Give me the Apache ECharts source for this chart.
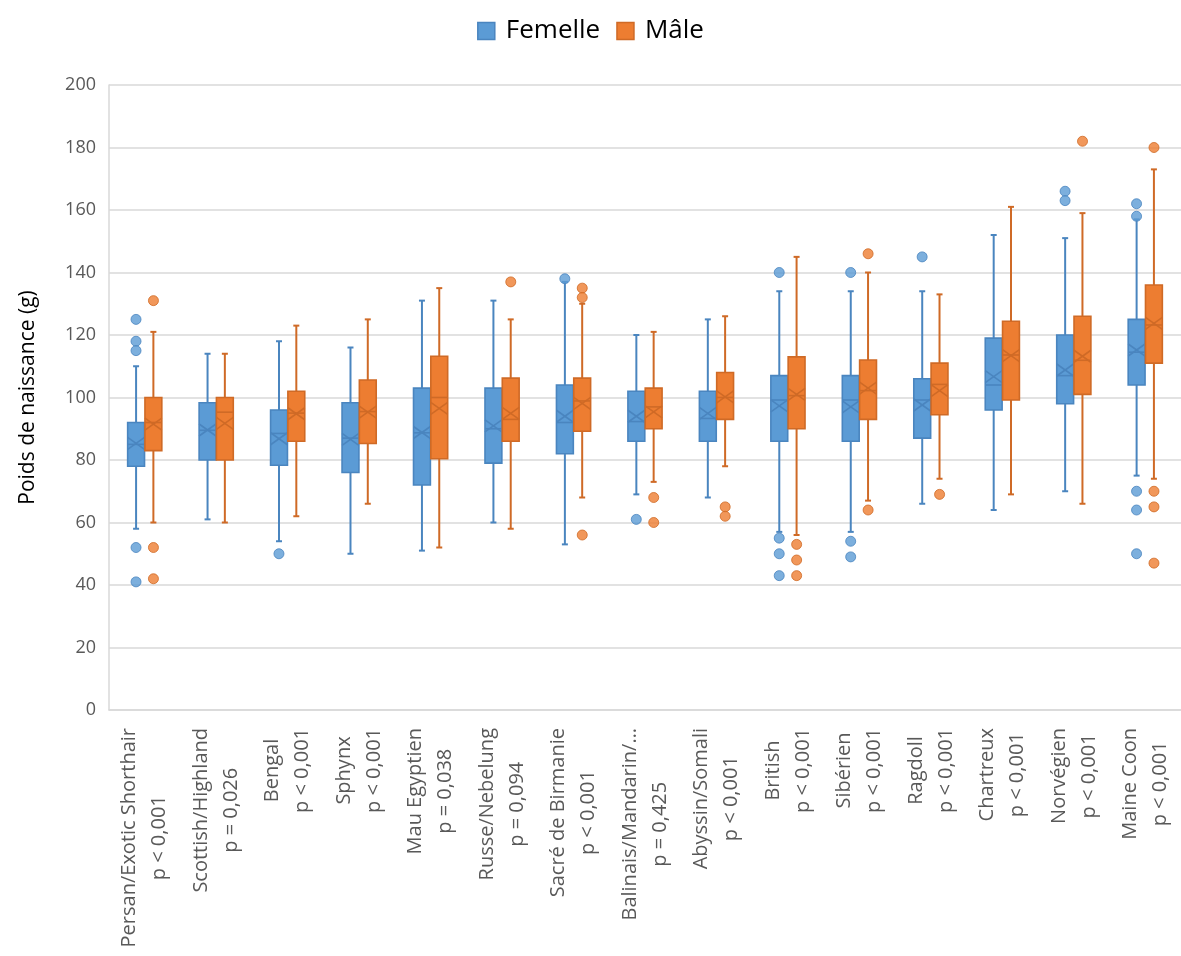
<!DOCTYPE html>
<html>
<head>
<meta charset="utf-8">
<script src="https://cdn.jsdelivr.net/npm/echarts@6/dist/echarts.min.js"></script>
<style>
  html, body { margin: 0; padding: 0; background: #ffffff; }
  #chart { width: 1181px; height: 956px; }
</style>
</head>
<body>
<div id="chart"></div>
<script>
// Breeds and the p-value of the female/male comparison for each one
const breeds = [
  'Persan/Exotic Shorthair', 'Scottish/Highland', 'Bengal', 'Sphynx', 'Mau Egyptien',
  'Russe/Nebelung', 'Sacré de Birmanie', 'Balinais/Mandarin/…', 'Abyssin/Somali', 'British',
  'Sibérien', 'Ragdoll', 'Chartreux', 'Norvégien', 'Maine Coon'
];
const pValues = [
  'p < 0,001', 'p = 0,026', 'p < 0,001', 'p < 0,001', 'p = 0,038',
  'p = 0,094', 'p < 0,001', 'p = 0,425', 'p < 0,001', 'p < 0,001',
  'p < 0,001', 'p < 0,001', 'p < 0,001', 'p < 0,001', 'p < 0,001'
];

// Birth weight (g): [lower whisker, Q1, median, Q3, upper whisker]
const femaleStats = [
  [58, 78, 85, 92, 110],
  [61, 80, 89.5, 98.3, 114],
  [54, 78.3, 88.5, 96, 118],
  [50, 76, 87, 98.3, 116],
  [51, 72, 88.7, 103, 131],
  [60, 79, 90, 103, 131],
  [53, 82, 92, 104, 137],
  [69, 86, 92.3, 102, 120],
  [68, 86, 93.3, 102, 125],
  [57, 86, 99.2, 107, 134],
  [57, 86, 99.2, 107, 134],
  [66, 87, 99.2, 106, 134],
  [64, 96, 104, 119, 152],
  [70, 98, 107, 120, 151],
  [75, 104, 114.5, 125, 157]
];
const femaleMeans = [85.3, 89.6, 86.8, 86.6, 88.8, 90.9, 94, 94, 94.9, 97.3, 97, 97.6, 106.7, 108.8, 115.2];
const femaleOutliers = [
  [0, 125], [0, 118], [0, 115], [0, 52], [0, 41],
  [2, 50],
  [6, 138],
  [7, 61],
  [9, 140], [9, 55], [9, 50], [9, 43],
  [10, 140], [10, 54], [10, 49],
  [11, 145],
  [13, 166], [13, 163],
  [14, 162], [14, 158], [14, 70], [14, 64], [14, 50]
];

const maleStats = [
  [60, 83, 92, 100, 121],
  [60, 80, 95.3, 100, 114],
  [62, 86, 95, 102, 123],
  [66, 85.3, 95.5, 105.6, 125],
  [52, 80.4, 100, 113.2, 135],
  [58, 86, 93, 106.2, 125],
  [68, 89.2, 98.9, 106.2, 130],
  [73, 90, 97, 103, 121],
  [78, 93, 100, 108, 126],
  [56, 90, 100.6, 113, 145],
  [67, 93, 102.2, 112, 140],
  [74, 94.5, 104.2, 111, 133],
  [69, 99.2, 113.6, 124.4, 161],
  [66, 101, 111.9, 126, 159],
  [74, 111, 123.2, 136, 173]
];
const maleMeans = [91.5, 91.7, 94.8, 95.3, 96.5, 94.9, 98.1, 95.4, 100.2, 101, 103, 102.2, 113.4, 113.2, 123.7];
const maleOutliers = [
  [0, 131], [0, 52], [0, 42],
  [5, 137],
  [6, 135], [6, 132], [6, 56],
  [7, 68], [7, 60],
  [8, 65], [8, 62],
  [9, 53], [9, 48], [9, 43],
  [10, 146], [10, 64],
  [11, 69],
  [13, 182],
  [14, 180], [14, 70], [14, 65], [14, 47]
];

const FONT = '"Open Sans", "Liberation Sans", sans-serif';
const LABEL_SIZE = 20;
const FEMALE = { fill: '#5B9BD5', line: '#4A85BF' };
const MALE = { fill: '#ED7D31', line: '#CF6A26' };
const SIDE_SHIFT = 0.121;   // box centre offset, as a share of the category band
const BOX_HALF = 0.118;     // half box width, as a share of the category band

// Box, whiskers, median bar and mean cross for one sex in one category
function boxRenderer(side, colors) {
  return function (params, api) {
    const cat = api.value(0);
    const band = api.size([1, 0])[0];
    const half = band * BOX_HALF;
    const cx = api.coord([cat, 0])[0] + side * band * SIDE_SHIFT;
    const y = (dim) => api.coord([cat, api.value(dim)])[1];
    const yLo = y(1), yQ1 = y(2), yMed = y(3), yQ3 = y(4), yHi = y(5), yMean = y(6);
    const cap = 3, cross = 6;
    const whisker = { stroke: colors.line, lineWidth: 2 };
    const thin = { stroke: colors.line, lineWidth: 1.6 };
    return {
      type: 'group',
      children: [
        { type: 'line', shape: { x1: cx, y1: yHi, x2: cx, y2: yQ3 }, style: whisker },
        { type: 'line', shape: { x1: cx, y1: yQ1, x2: cx, y2: yLo }, style: whisker },
        { type: 'line', shape: { x1: cx - cap, y1: yHi, x2: cx + cap, y2: yHi }, style: whisker },
        { type: 'line', shape: { x1: cx - cap, y1: yLo, x2: cx + cap, y2: yLo }, style: whisker },
        { type: 'rect', shape: { x: cx - half, y: yQ3, width: half * 2, height: yQ1 - yQ3 },
          style: { fill: colors.fill, stroke: colors.line, lineWidth: 1.6 } },
        { type: 'line', shape: { x1: cx - half, y1: yMed, x2: cx + half, y2: yMed }, style: thin },
        { type: 'line', shape: { x1: cx - half, y1: yMean - cross, x2: cx + half, y2: yMean + cross }, style: thin },
        { type: 'line', shape: { x1: cx - half, y1: yMean + cross, x2: cx + half, y2: yMean - cross }, style: thin }
      ]
    };
  };
}

function boxData(stats, means) {
  return stats.map((s, i) => [i, s[0], s[1], s[2], s[3], s[4], means[i]]);
}

// Two-line category labels: each line is centred on the longer one
const measure = document.createElement('canvas').getContext('2d');
measure.font = LABEL_SIZE + 'px "Open Sans"';
const labelRich = {};
breeds.forEach((name, i) => {
  const w1 = measure.measureText(name).width;
  const w2 = measure.measureText(pValues[i]).width;
  const w = Math.max(w1, w2);
  const base = { fontFamily: FONT, fontSize: LABEL_SIZE, lineHeight: 30, color: '#595959' };
  labelRich['a' + i] = Object.assign({}, base, { padding: [0, (w - w1) / 2, 0, (w - w1) / 2] });
  labelRich['b' + i] = Object.assign({}, base, { padding: [0, (w - w2) / 2, 0, (w - w2) / 2] });
});

const chart = echarts.init(document.getElementById('chart'), null, { renderer: 'canvas' });
const bandPx = 1080 / breeds.length;

chart.setOption({
  animation: false,
  backgroundColor: '#ffffff',
  legend: {
    top: 13,
    left: 'center',
    itemWidth: 17,
    itemHeight: 17,
    itemGap: 16,
    textStyle: { fontFamily: FONT, fontSize: 26, color: '#000000', padding: [0, 0, 0, 6] },
    data: [
      { name: 'Femelle', icon: 'rect', itemStyle: { color: FEMALE.fill, borderColor: FEMALE.line, borderWidth: 1.5 } },
      { name: 'Mâle', icon: 'rect', itemStyle: { color: MALE.fill, borderColor: MALE.line, borderWidth: 1.5 } }
    ]
  },
  grid: { left: 109, top: 85, width: 1080, height: 625, containLabel: false },
  xAxis: {
    type: 'category',
    data: breeds,
    axisTick: { show: false },
    axisLine: { lineStyle: { color: '#d9d9d9', width: 1.5 } },
    axisLabel: {
      interval: 0,
      rotate: 90,
      margin: 18,
      formatter: (v, i) => '{a' + i + '|' + v + '}\n{b' + i + '|' + pValues[i] + '}',
      rich: labelRich
    }
  },
  yAxis: {
    type: 'value',
    min: 0,
    max: 200,
    interval: 20,
    name: 'Poids de naissance (g)',
    nameLocation: 'middle',
    nameRotate: 90,
    nameGap: 70,
    nameTextStyle: { fontFamily: FONT, fontSize: 21, color: '#000000' },
    axisLine: { show: true, lineStyle: { color: '#d9d9d9', width: 1.5 } },
    axisTick: { show: false },
    axisLabel: { fontFamily: FONT, fontSize: 18, color: '#595959', margin: 13 },
    splitLine: { lineStyle: { color: '#d9d9d9', width: 1.5 } }
  },
  series: [
    {
      name: 'Femelle',
      type: 'custom',
      renderItem: boxRenderer(-1, FEMALE),
      itemStyle: { color: FEMALE.fill },
      encode: { x: 0, y: [1, 2, 3, 4, 5, 6] },
      data: boxData(femaleStats, femaleMeans),
      z: 3
    },
    {
      name: 'Mâle',
      type: 'custom',
      renderItem: boxRenderer(1, MALE),
      itemStyle: { color: MALE.fill },
      encode: { x: 0, y: [1, 2, 3, 4, 5, 6] },
      data: boxData(maleStats, maleMeans),
      z: 3
    },
    {
      name: 'Femelle',
      type: 'scatter',
      symbol: 'circle',
      symbolSize: 10,
      symbolOffset: [-bandPx * SIDE_SHIFT, 0],
      itemStyle: { color: FEMALE.fill, borderColor: FEMALE.line, borderWidth: 1 },
      data: femaleOutliers,
      z: 4
    },
    {
      name: 'Mâle',
      type: 'scatter',
      symbol: 'circle',
      symbolSize: 10,
      symbolOffset: [bandPx * SIDE_SHIFT, 0],
      itemStyle: { color: MALE.fill, borderColor: MALE.line, borderWidth: 1 },
      data: maleOutliers,
      z: 4
    }
  ]
});
</script>
</body>
</html>
